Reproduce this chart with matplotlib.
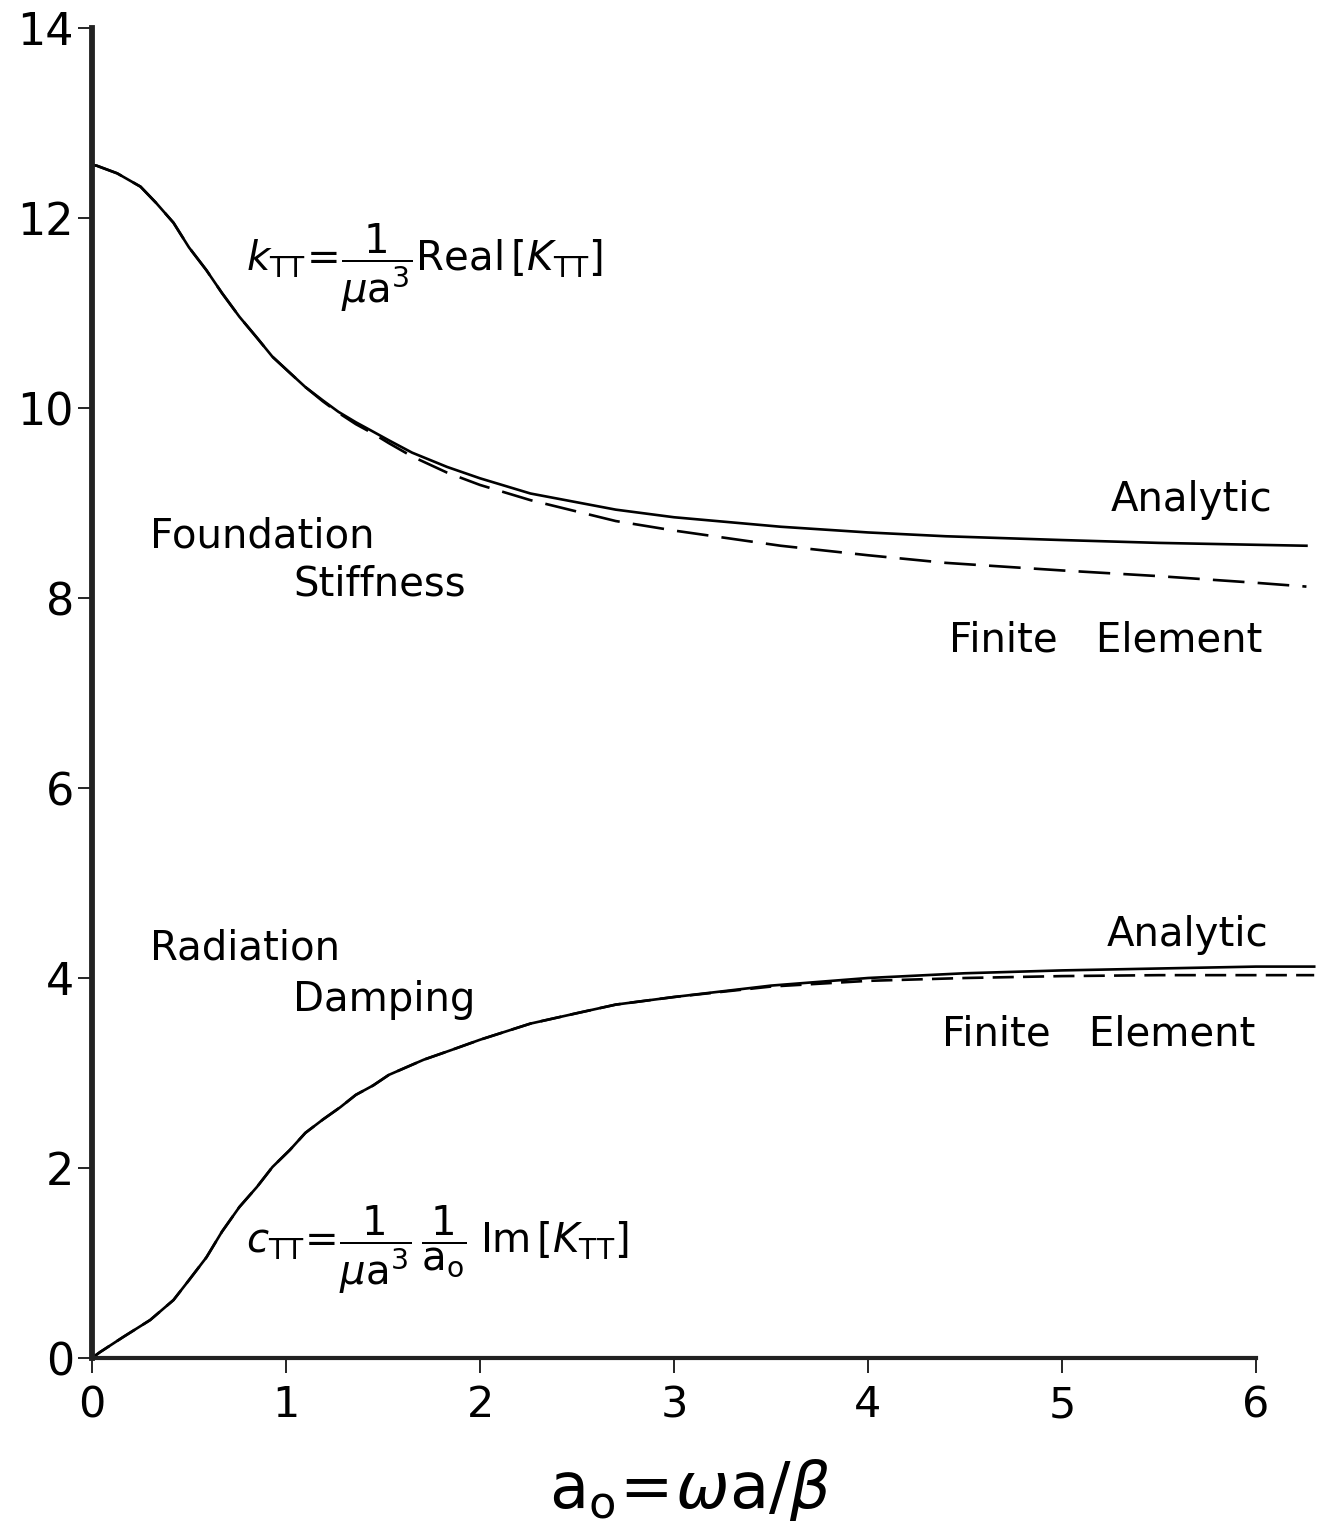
import matplotlib
matplotlib.use("Agg")
import matplotlib.pyplot as plt

plt.rcParams['font.family'] = ['DejaVu Sans']
plt.rcParams['mathtext.fontset'] = 'dejavusans'

# ---- data ----
stiff_x = [0, 0.025, 0.13, 0.25, 0.33, 0.42, 0.50, 0.59, 0.67, 0.76, 0.85, 0.93,
           1.02, 1.10, 1.19, 1.27, 1.36, 1.45, 1.53, 1.65, 1.83, 2.0, 2.26, 2.7,
           3.0, 3.55, 4.0, 4.4, 5.0, 5.5, 6.0, 6.26]
stiff_analytic = [12.56, 12.55, 12.47, 12.33, 12.16, 11.95, 11.69, 11.45, 11.21,
                  10.96, 10.74, 10.54, 10.37, 10.22, 10.08, 9.96, 9.85, 9.75, 9.66,
                  9.53, 9.38, 9.26, 9.10, 8.93, 8.85, 8.75, 8.69, 8.65, 8.61, 8.58,
                  8.56, 8.55]
stiff_fe = [12.56, 12.55, 12.47, 12.33, 12.16, 11.95, 11.69, 11.45, 11.21,
            10.96, 10.74, 10.54, 10.37, 10.22, 10.07, 9.95, 9.83, 9.73, 9.63,
            9.49, 9.32, 9.19, 9.03, 8.81, 8.71, 8.55, 8.45, 8.37, 8.29, 8.23,
            8.16, 8.12]

damp_x = [0, 0.04, 0.16, 0.30, 0.42, 0.50, 0.59, 0.67, 0.76, 0.85, 0.93, 1.02,
          1.10, 1.19, 1.28, 1.36, 1.45, 1.53, 1.71, 1.85, 2.0, 2.26, 2.5, 2.7,
          3.0, 3.5, 4.0, 4.5, 5.0, 5.5, 6.0, 6.3]
damp_analytic = [0.0, 0.06, 0.22, 0.40, 0.61, 0.82, 1.06, 1.33, 1.59, 1.80, 2.01,
                 2.19, 2.37, 2.51, 2.64, 2.77, 2.87, 2.98, 3.14, 3.24, 3.35, 3.52,
                 3.63, 3.72, 3.80, 3.92, 4.00, 4.05, 4.08, 4.10, 4.12, 4.12]
damp_fe = [0.0, 0.06, 0.22, 0.40, 0.61, 0.82, 1.06, 1.33, 1.59, 1.80, 2.01,
           2.19, 2.37, 2.51, 2.64, 2.77, 2.87, 2.98, 3.14, 3.24, 3.35, 3.52,
           3.63, 3.72, 3.80, 3.91, 3.97, 4.00, 4.02, 4.03, 4.03, 4.03]

x_ticks = [0, 1, 2, 3, 4, 5, 6]
x_ticklabels = ['0', '1', '2', '3', '4', '5', '6']
y_ticks = [0, 2, 4, 6, 8, 10, 12, 14]
y_ticklabels = ['0', '2', '4', '6', '8', '10', '12', '14']

W, H = 1327, 1531
fig = plt.figure(figsize=(W / 100, H / 100), dpi=100)
left_px, right_px, top_px, bot_px = 92, 1327, 28, 1358
ax = fig.add_axes([left_px / W, 1 - bot_px / H, (right_px - left_px) / W, (bot_px - top_px) / H])
ax.set_xlim(0, (right_px - left_px) / 194.0)
ax.set_ylim(0, 14)

lw = 1.9
ax.plot(stiff_x, stiff_analytic, color='black', lw=lw, clip_on=False)
ax.plot(stiff_x, stiff_fe, color='black', lw=lw, ls=(0, (12, 5)), clip_on=False)
ax.plot(damp_x, damp_analytic, color='black', lw=lw, clip_on=False)
ax.plot(damp_x, damp_fe, color='black', lw=lw, ls=(0, (8, 3.5)), clip_on=False)

for s in ['top', 'right']:
    ax.spines[s].set_visible(False)
ax.spines['left'].set_linewidth(4.2)
ax.spines['left'].set_color('#222222')
ax.spines['bottom'].set_linewidth(3.0)
ax.spines['bottom'].set_color('#222222')
ax.spines['bottom'].set_bounds(0, 6)

ax.set_xticks(x_ticks)
ax.set_xticklabels(x_ticklabels)
ax.set_yticks(y_ticks)
ax.set_yticklabels(y_ticklabels)
ax.tick_params(axis='x', direction='out', length=11, width=1.2, pad=8, labelsize=31)
ax.tick_params(axis='y', direction='out', length=10, width=1.2, pad=3, labelsize=32)

fs = 29


def dx(px):
    return (px - left_px) / 194.0


def dy(py):
    return (bot_px - py) / 95.0


ax.text(dx(246), dy(268), r'$k_{\mathrm{TT}}\!=\!\dfrac{1}{\mu \mathrm{a}^3}\mathrm{Real}\,\left[K_{\mathrm{TT}}\right]$',
        fontsize=fs, va='center', ha='left')
ax.text(dx(246), dy(1250), r'$c_{\mathrm{TT}}\!=\!\dfrac{1}{\mu \mathrm{a}^3}\,\dfrac{1}{\mathrm{a_o}}\;\mathrm{Im}\,\left[K_{\mathrm{TT}}\right]$',
        fontsize=fs, va='center', ha='left')

ax.text(dx(150), dy(537), 'Foundation', fontsize=fs, va='center', ha='left')
ax.text(dx(293), dy(585), 'Stiffness', fontsize=fs, va='center', ha='left')
ax.text(dx(150), dy(948), 'Radiation', fontsize=fs, va='center', ha='left')
ax.text(dx(293), dy(1000), 'Damping', fontsize=fs, va='center', ha='left')

ax.text(dx(1272), dy(500), 'Analytic', fontsize=fs, va='center', ha='right')
ax.text(dx(1262), dy(640), 'Finite   Element', fontsize=fs, va='center', ha='right')
ax.text(dx(1268), dy(935), 'Analytic', fontsize=fs, va='center', ha='right')
ax.text(dx(1255), dy(1035), 'Finite   Element', fontsize=fs, va='center', ha='right')

fig.text(690 / W, 1 - 1490 / H, r'$\mathrm{a_o}\!=\!\omega \mathrm{a}/\beta$',
         fontsize=46, ha='center', va='center')

fig.savefig('out.png', dpi=100)
